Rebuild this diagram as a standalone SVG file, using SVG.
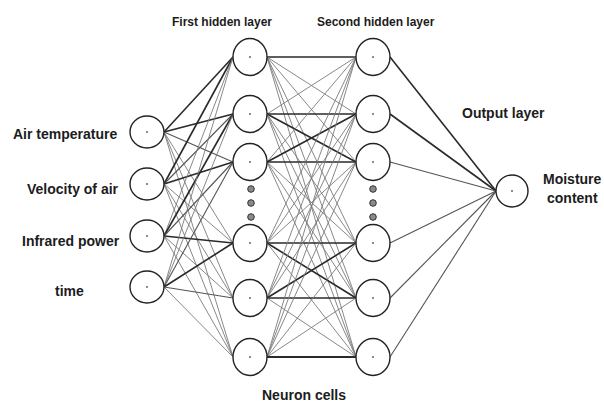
<svg xmlns="http://www.w3.org/2000/svg" width="604" height="405" viewBox="0 0 604 405">
<style>
.bg{fill:#fff}
.node{fill:#fff;stroke:#222;stroke-width:1.4}
.cd{fill:#666}
.dot{fill:#8a8a8a;stroke:#333;stroke-width:1}
.t{stroke:#7a7a7a;stroke-width:0.9;fill:none}
.m{stroke:#555;stroke-width:1.1;fill:none}
.k{stroke:#2a2a2a;stroke-width:1.6;fill:none}
.kk{stroke:#2a2a2a;stroke-width:2.2;fill:none}
text{font-family:"Liberation Sans",Arial,sans-serif;font-weight:bold;fill:#1c1c1c}
.s12{font-size:12px}
.s14{font-size:14px}
</style>
<rect class="bg" x="0" y="0" width="604" height="405"/>
<g id="connectors">
<line class="k" x1="164" y1="132" x2="233" y2="57"/>
<line class="k" x1="164" y1="132" x2="233" y2="114"/>
<line class="m" x1="164" y1="132" x2="233" y2="162"/>
<line class="t" x1="164" y1="132" x2="233" y2="243"/>
<line class="t" x1="164" y1="132" x2="233" y2="298"/>
<line class="t" x1="164" y1="132" x2="233" y2="357"/>
<line class="k" x1="164" y1="184" x2="233" y2="57"/>
<line class="m" x1="164" y1="184" x2="233" y2="114"/>
<line class="k" x1="164" y1="184" x2="233" y2="162"/>
<line class="t" x1="164" y1="184" x2="233" y2="243"/>
<line class="t" x1="164" y1="184" x2="233" y2="298"/>
<line class="t" x1="164" y1="184" x2="233" y2="357"/>
<line class="t" x1="164" y1="236" x2="233" y2="57"/>
<line class="k" x1="164" y1="236" x2="233" y2="114"/>
<line class="m" x1="164" y1="236" x2="233" y2="162"/>
<line class="k" x1="164" y1="236" x2="233" y2="243"/>
<line class="t" x1="164" y1="236" x2="233" y2="298"/>
<line class="t" x1="164" y1="236" x2="233" y2="357"/>
<line class="t" x1="164" y1="287" x2="233" y2="57"/>
<line class="t" x1="164" y1="287" x2="233" y2="114"/>
<line class="m" x1="164" y1="287" x2="233" y2="162"/>
<line class="k" x1="164" y1="287" x2="233" y2="243"/>
<line class="m" x1="164" y1="287" x2="233" y2="298"/>
<line class="t" x1="164" y1="287" x2="233" y2="357"/>
<line class="k" x1="267" y1="57" x2="356" y2="57"/>
<line class="t" x1="267" y1="57" x2="356" y2="114"/>
<line class="t" x1="267" y1="57" x2="356" y2="162"/>
<line class="t" x1="267" y1="57" x2="356" y2="243"/>
<line class="t" x1="267" y1="57" x2="356" y2="298"/>
<line class="t" x1="267" y1="57" x2="356" y2="357"/>
<line class="t" x1="267" y1="114" x2="356" y2="57"/>
<line class="k" x1="267" y1="114" x2="356" y2="114"/>
<line class="k" x1="267" y1="114" x2="356" y2="162"/>
<line class="t" x1="267" y1="114" x2="356" y2="243"/>
<line class="t" x1="267" y1="114" x2="356" y2="298"/>
<line class="t" x1="267" y1="114" x2="356" y2="357"/>
<line class="t" x1="267" y1="162" x2="356" y2="57"/>
<line class="k" x1="267" y1="162" x2="356" y2="114"/>
<line class="k" x1="267" y1="162" x2="356" y2="162"/>
<line class="t" x1="267" y1="162" x2="356" y2="243"/>
<line class="t" x1="267" y1="162" x2="356" y2="298"/>
<line class="t" x1="267" y1="162" x2="356" y2="357"/>
<line class="t" x1="267" y1="243" x2="356" y2="57"/>
<line class="t" x1="267" y1="243" x2="356" y2="114"/>
<line class="t" x1="267" y1="243" x2="356" y2="162"/>
<line class="k" x1="267" y1="243" x2="356" y2="243"/>
<line class="k" x1="267" y1="243" x2="356" y2="298"/>
<line class="t" x1="267" y1="243" x2="356" y2="357"/>
<line class="t" x1="267" y1="298" x2="356" y2="57"/>
<line class="t" x1="267" y1="298" x2="356" y2="114"/>
<line class="t" x1="267" y1="298" x2="356" y2="162"/>
<line class="k" x1="267" y1="298" x2="356" y2="243"/>
<line class="k" x1="267" y1="298" x2="356" y2="298"/>
<line class="t" x1="267" y1="298" x2="356" y2="357"/>
<line class="t" x1="267" y1="357" x2="356" y2="57"/>
<line class="t" x1="267" y1="357" x2="356" y2="114"/>
<line class="t" x1="267" y1="357" x2="356" y2="162"/>
<line class="t" x1="267" y1="357" x2="356" y2="243"/>
<line class="t" x1="267" y1="357" x2="356" y2="298"/>
<line class="kk" x1="267" y1="357" x2="356" y2="357"/>
<line class="k" x1="390" y1="57" x2="496" y2="191"/>
<line class="k" x1="390" y1="114" x2="496" y2="191"/>
<line class="m" x1="390" y1="162" x2="496" y2="191"/>
<line class="m" x1="390" y1="243" x2="496" y2="191"/>
<line class="m" x1="390" y1="298" x2="496" y2="191"/>
<line class="m" x1="390" y1="357" x2="496" y2="191"/>
</g>
<g id="in1"><ellipse class="node" cx="147" cy="132" rx="17" ry="16"/><circle class="cd" cx="147" cy="132" r="1"/></g>
<g id="in2"><ellipse class="node" cx="147" cy="184" rx="17" ry="16"/><circle class="cd" cx="147" cy="184" r="1"/></g>
<g id="in3"><ellipse class="node" cx="147" cy="236" rx="17" ry="16"/><circle class="cd" cx="147" cy="236" r="1"/></g>
<g id="in4"><ellipse class="node" cx="147" cy="287" rx="17" ry="16"/><circle class="cd" cx="147" cy="287" r="1"/></g>
<g id="h1n1"><ellipse class="node" cx="250" cy="57" rx="17" ry="18.5"/><circle class="cd" cx="250" cy="57" r="1"/></g>
<g id="h1n2"><ellipse class="node" cx="250" cy="114" rx="17" ry="18.5"/><circle class="cd" cx="250" cy="114" r="1"/></g>
<g id="h1n3"><ellipse class="node" cx="250" cy="162" rx="17" ry="18.5"/><circle class="cd" cx="250" cy="162" r="1"/></g>
<g id="h1n4"><ellipse class="node" cx="250" cy="243" rx="17" ry="18.5"/><circle class="cd" cx="250" cy="243" r="1"/></g>
<g id="h1n5"><ellipse class="node" cx="250" cy="298" rx="17" ry="18.5"/><circle class="cd" cx="250" cy="298" r="1"/></g>
<g id="h1n6"><ellipse class="node" cx="250" cy="357" rx="17" ry="18.5"/><circle class="cd" cx="250" cy="357" r="1"/></g>
<g id="h1dots"><circle class="dot" cx="251" cy="189" r="3.3"/><circle class="dot" cx="251" cy="203" r="3.3"/><circle class="dot" cx="251" cy="217" r="3.3"/></g>
<g id="h2n1"><ellipse class="node" cx="373" cy="57" rx="17" ry="18.5"/><circle class="cd" cx="373" cy="57" r="1"/></g>
<g id="h2n2"><ellipse class="node" cx="373" cy="114" rx="17" ry="18.5"/><circle class="cd" cx="373" cy="114" r="1"/></g>
<g id="h2n3"><ellipse class="node" cx="373" cy="162" rx="17" ry="18.5"/><circle class="cd" cx="373" cy="162" r="1"/></g>
<g id="h2n4"><ellipse class="node" cx="373" cy="243" rx="17" ry="18.5"/><circle class="cd" cx="373" cy="243" r="1"/></g>
<g id="h2n5"><ellipse class="node" cx="373" cy="298" rx="17" ry="18.5"/><circle class="cd" cx="373" cy="298" r="1"/></g>
<g id="h2n6"><ellipse class="node" cx="373" cy="357" rx="17" ry="18.5"/><circle class="cd" cx="373" cy="357" r="1"/></g>
<g id="h2dots"><circle class="dot" cx="373" cy="189" r="3.3"/><circle class="dot" cx="373" cy="203" r="3.3"/><circle class="dot" cx="373" cy="217" r="3.3"/></g>
<g id="out"><ellipse class="node" cx="512" cy="191" rx="16" ry="16"/><circle class="cd" cx="512" cy="191" r="1"/></g>
<g id="labels">
<text class="s12" x="172" y="26">First hidden layer</text>
<text class="s12" x="317" y="26">Second hidden layer</text>
<text class="s14" x="13" y="139">Air temperature</text>
<text class="s14" x="27" y="194">Velocity of air</text>
<text class="s14" x="22" y="246">Infrared power</text>
<text class="s14" x="55" y="296">time</text>
<text class="s14" x="462" y="118">Output layer</text>
<text class="s14" x="543" y="184">Moisture</text>
<text class="s14" x="547" y="203">content</text>
<text class="s14" x="262" y="400">Neuron cells</text>
</g>
</svg>
